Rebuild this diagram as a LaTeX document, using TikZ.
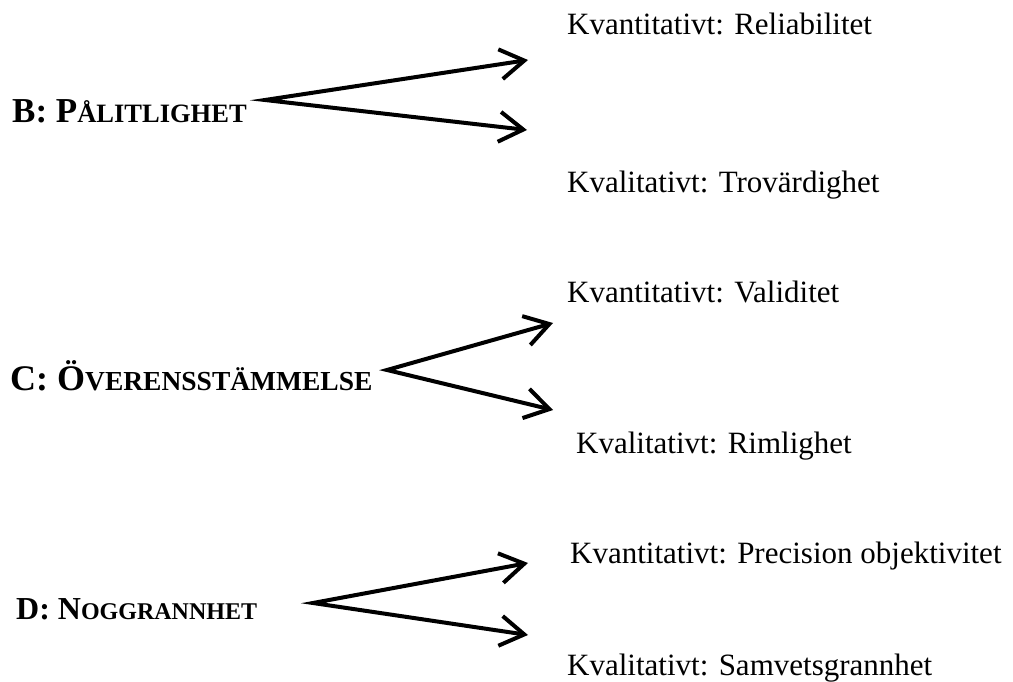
\documentclass[tikz,border=0pt]{standalone}
\usepackage{fontspec}
\setmainfont{Liberation Serif}
\usetikzlibrary{arrows.meta}

\newcommand{\litenkap}[2]{{\fontsize{#1}{#1}\selectfont #2}}

\begin{document}
\begin{tikzpicture}[
  x=1pt, y=-1pt,
  item/.style={anchor=base west, inner sep=0pt, font=\fontsize{31}{37}\selectfont},
  head/.style={anchor=base west, inner sep=0pt, font=\bfseries},
  fork/.style={line width=4pt, line join=miter, miter limit=20,
    {Straight Barb[length=24pt,width=30pt]}-{Straight Barb[length=24pt,width=30pt]}}
]
\useasboundingbox (0,0) rectangle (1013,682);

\node[head] (palit) at (12,123) {\fontsize{35}{40}\selectfont B: P\litenkap{26.5}{ÅLITLIGHET}};
\node[head] (overens) at (10,390) {\fontsize{36}{42}\selectfont C: Ö\litenkap{27.5}{VERENSSTÄMMELSE}};
\node[head] (noggrann) at (16,619) {\fontsize{32}{38}\selectfont D: N\litenkap{24}{OGGRANNHET}};

\node[item] (relia) at (567,35) {Kvantitativt: Reliabilitet};
\node[item] (trovard) at (567,193) {Kvalitativt: Trovärdighet};
\node[item] (valid) at (567,302) {Kvantitativt: Validitet};
\node[item] (rimlig) at (576,453) {Kvalitativt: Rimlighet};
\node[item] (precis) at (570,563) {Kvantitativt: Precision objektivitet};
\node[item] (samvets) at (567,675) {Kvalitativt: Samvetsgrannhet};

\coordinate (bsplit) at (265,100);
\coordinate (btop) at (528,60);
\coordinate (bbot) at (527,130);
\coordinate (csplit) at (387,370);
\coordinate (ctop) at (553,323);
\coordinate (cbot) at (553,410);
\coordinate (dsplit) at (313,603);
\coordinate (dtop) at (528,563);
\coordinate (dbot) at (528,635);

\draw[fork] (btop) -- (bsplit) -- (bbot);
\draw[fork] (ctop) -- (csplit) -- (cbot);
\draw[fork] (dtop) -- (dsplit) -- (dbot);
\end{tikzpicture}
\end{document}
